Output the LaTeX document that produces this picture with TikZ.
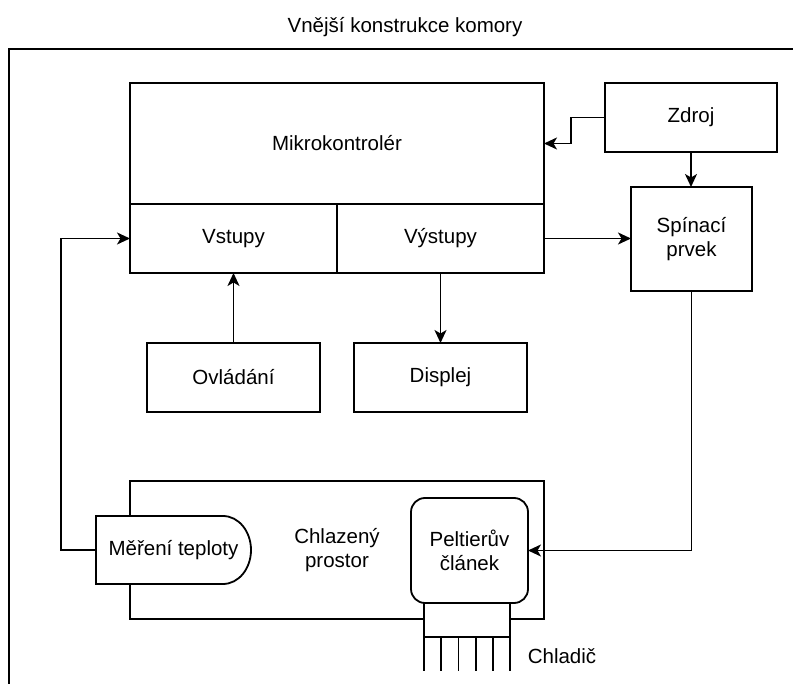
\documentclass[tikz,border=0pt]{standalone}
\usepackage{fontspec}
\setmainfont{Liberation Sans}
\usetikzlibrary{arrows.meta,calc}
\begin{document}
\begin{tikzpicture}[x=1pt,y=-1pt,
  every node/.style={font=\fontsize{20.5}{24.5}\selectfont, inner sep=0pt, outer sep=0pt},
  box/.style={draw, line width=1.8pt, fill=white, align=center},
  ln/.style={line width=1.8pt},
  arr/.style={line width=1.8pt, -{Stealth[length=13pt,width=12pt,inset=3.5pt]}}]
\useasboundingbox (0,0) rectangle (793,684);
% outer construction
\draw[ln] (9,684) -- (9,49) -- (793,49);
\node (title) at (405,27) {Vnější konstrukce komory};
% microcontroller
\node[box, minimum width=414pt, minimum height=121pt] (mcu) at (337,143.5) {Mikrokontrolér};
\node[box, minimum width=207pt, minimum height=69pt] (vst) at (233.5,238.5) {Vstupy};
\node[box, minimum width=207pt, minimum height=69pt] (vys) at (440.5,238.5) {Výstupy};
% power
\node[box, minimum width=172pt, minimum height=69pt] (zdroj) at (691,117.5) {Zdroj};
\node[box, minimum width=121pt, minimum height=104pt] (spin) at (691.5,239) {Spínací\\prvek};
% controls and display
\node[box, minimum width=173pt, minimum height=69pt] (ovl) at (233.5,377.5) {Ovládání};
\node[box, minimum width=173pt, minimum height=69pt] (disp) at (440.5,377.5) {Displej};
% cooled space
\node[box, minimum width=414pt, minimum height=138pt] (chl) at (337,550) {Chlazený\\prostor};
% temperature measurement (delay shape)
\draw[ln, fill=white] (96,516) -- (223,516) .. controls (238.5,516) and (251,531.2) .. (251,550)
  .. controls (251,568.8) and (238.5,584) .. (223,584) -- (96,584) -- cycle;
\node[minimum width=155pt, minimum height=68pt] (mer) at (173.5,550) {Měření teploty};
% Peltier
\node[box, rounded corners=14pt, minimum width=117pt, minimum height=105pt] (pelt) at (469.5,550.5) {Peltierův\\článek};
% heatsink
\node[box, minimum width=86pt, minimum height=34pt] (hs) at (467,620) {};
\foreach \fx in {424,441.2,458.4,475.6,492.8,510}
  \draw[ln] (\fx,637) -- (\fx,671);
\node (chladic) at (562,656) {Chladič};
% connectors
\draw[arr] (zdroj.west) -- ([xshift=-34pt]zdroj.west) |- (mcu.east);
\draw[arr] (zdroj.south) -- (zdroj.south |- spin.north);
\draw[arr] (vys.east) -- (vys.east -| spin.west);
\draw[arr] (spin.south) |- (pelt.east);
\draw[arr] (vys.south) -- (vys.south |- disp.north);
\draw[arr] (ovl.north) -- (ovl.north |- vst.south);
\draw[arr] (mer.west) -- ([xshift=-35pt]mer.west) |- (vst.west);
\end{tikzpicture}
\end{document}
